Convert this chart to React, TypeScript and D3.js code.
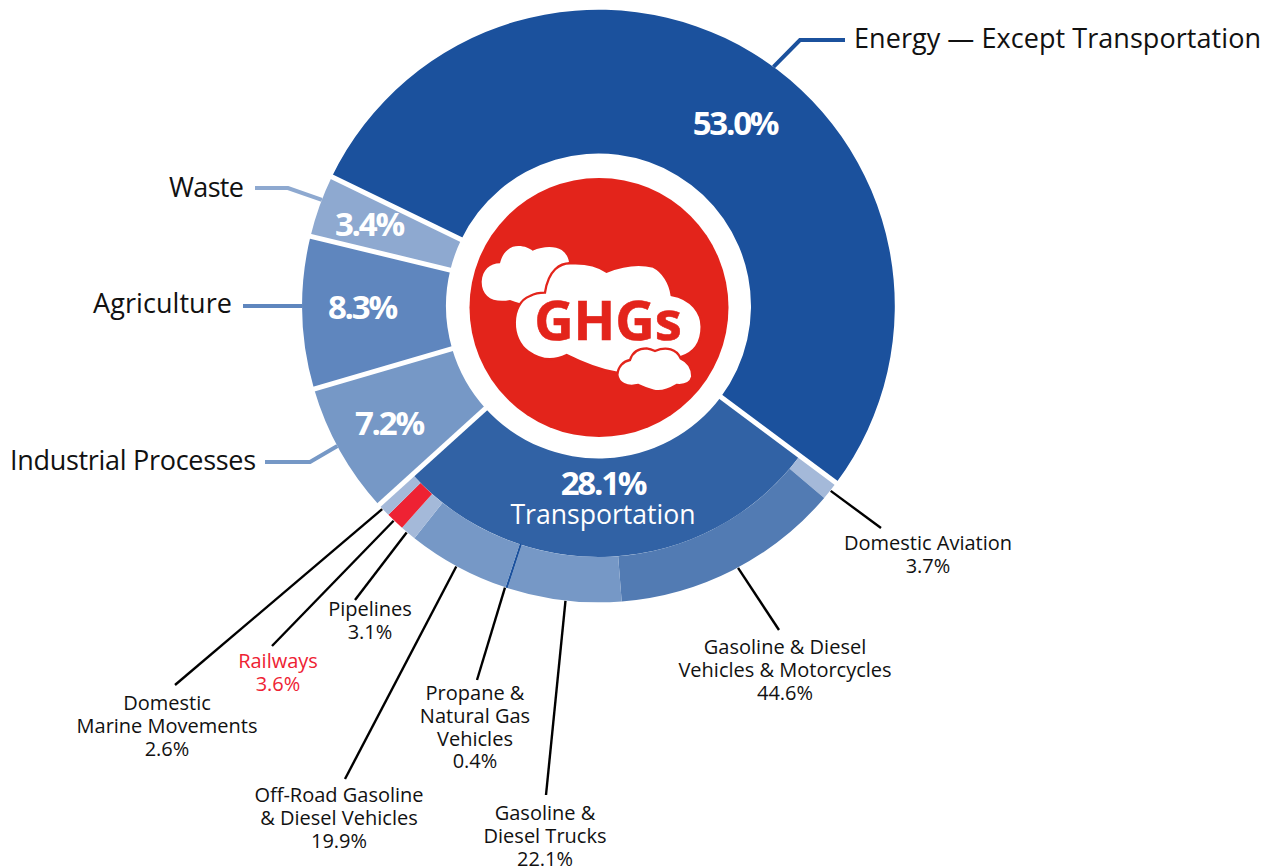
import React from "react";
import * as d3 from "d3";

const sectorNames = ["Energy — Except Transportation", "Transportation", "Industrial Processes", "Agriculture", "Waste"];
const sectorValues = [53.0, 28.1, 7.2, 8.3, 3.4];
const sectorColors = ["#1B519D", "#3162A5", "#7698C6", "#5F86BE", "#8EA9D0"];

const subNames = ["Domestic Aviation", "Gasoline & Diesel Vehicles & Motorcycles", "Gasoline & Diesel Trucks", "Propane & Natural Gas Vehicles", "Off-Road Gasoline & Diesel Vehicles", "Pipelines", "Railways", "Domestic Marine Movements"];
const subValues = [3.7, 44.6, 22.1, 0.4, 19.9, 3.1, 3.6, 2.6];
const subColors = ["#A4B9D9", "#527BB3", "#7698C6", "#1B519D", "#7698C6", "#A4B9D9", "#EE2233", "#A4B9D9"];

const W = 1280, H = 867;
const cx = 598.5, cy = 306;
const R = 296.3, rMid = 251, rIn = 152.5, rCore = 129.5;
const startDeg = -64.15;
const FONT = "'Open Sans', 'Noto Sans', sans-serif";

const rad = (d: number) => (d * Math.PI) / 180;
const pt = (deg: number, r: number): [number, number] => [cx + Math.sin(rad(deg)) * r, cy - Math.cos(rad(deg)) * r];

const sectorAngle = d3.scaleLinear().domain([0, 100]).range([startDeg, startDeg + 360]);
const sectorCum = d3.cumsum(sectorValues);
const sectorArcs = sectorValues.map((v, i) => ({ a0: sectorAngle(sectorCum[i] - v), a1: sectorAngle(sectorCum[i]) }));
const trans = sectorArcs[1];
const subAngle = d3.scaleLinear().domain([0, d3.sum(subValues)]).range([trans.a0, trans.a1]);
const subCum = d3.cumsum(subValues);
const subArcs = subValues.map((v, i) => ({ a0: subAngle(subCum[i] - v), a1: subAngle(subCum[i]) }));

const arc = d3.arc<any>();
const arcPath = (r0: number, r1: number, a0: number, a1: number) =>
  arc({ innerRadius: r0, outerRadius: r1, startAngle: rad(a0), endAngle: rad(a1) }) as string;

type Lab = { lines: string[]; anchor: [number, number]; text: [number, number]; nudge?: number; color?: string };
const subLabels: Lab[] = [
  { lines: ["Domestic Aviation", "3.7%"], anchor: [881, 528], text: [928, 550] },
  { lines: ["Gasoline & Diesel", "Vehicles & Motorcycles", "44.6%"], anchor: [779, 630], text: [785, 654], nudge: -1.0 },
  { lines: ["Gasoline &", "Diesel Trucks", "22.1%"], anchor: [546, 795], text: [545, 820], nudge: -0.3 },
  { lines: ["Propane &", "Natural Gas", "Vehicles", "0.4%"], anchor: [477, 680], text: [475, 700], nudge: 0.3 },
  { lines: ["Off-Road Gasoline", "& Diesel Vehicles", "19.9%"], anchor: [345, 779], text: [339, 802], nudge: 0.3 },
  { lines: ["Pipelines", "3.1%"], anchor: [355, 600], text: [370, 616], nudge: 0.3 },
  { lines: ["Railways", "3.6%"], anchor: [272, 646], text: [278, 668], nudge: 0.3, color: "#EE2233" },
  { lines: ["Domestic", "Marine Movements", "2.6%"], anchor: [175, 685], text: [167, 710], nudge: 0.3 },
];

const sectorLeaders: [number, number][][] = [
  [[800, 40], [845, 40]],
  [],
  [[310, 462], [265, 462]],
  [[243, 306]],
  [[288, 188], [255, 188]],
];
const leaderAngles = [36.2, 0, 241.8, 270, 291];
const sectorTitle: ({ x: number; y: number; anchor: string; len: number } | null)[] = [
  { x: 854, y: 48, anchor: "start", len: 407 },
  null,
  { x: 256, y: 470, anchor: "end", len: 246 },
  { x: 232, y: 313, anchor: "end", len: 139 },
  { x: 244, y: 197, anchor: "end", len: 75 },
];
const pctPos: [number, number][] = [[735, 135], [603, 495], [389, 435], [362, 319], [369, 235.5]];

const lineGen = d3.line();

export default function App() {
  const tr = `translate(${cx},${cy})`;
  const boundaries = sectorArcs.map((a) => a.a0);
  const propaneMid = (subArcs[3].a0 + subArcs[3].a1) / 2;
  return (
    <svg width={W} height={H} style={{ position: "absolute", left: 0, top: 0 }} fontFamily={FONT}>
      <rect width={W} height={H} fill="#fff" />
      {sectorArcs.map((a, i) => (
        <path key={i} transform={tr} d={arcPath(rIn, i === 1 ? rMid : R, a.a0, a.a1)} fill={sectorColors[i]} />
      ))}
      {subArcs.map((a, i) => (
        <path key={i} transform={tr} d={arcPath(rMid, R, a.a0, a.a1)} fill={subColors[i]} />
      ))}
      {boundaries.map((d, i) => (
        <path key={i} d={lineGen([pt(d, rIn - 2), pt(d, R + 3)]) as string} stroke="#fff" strokeWidth={5} />
      ))}
      <path d={lineGen([pt(propaneMid, rMid - 1), pt(propaneMid, R)]) as string} stroke={subColors[3]} strokeWidth={1.5} fill="none" />

      {subLabels.map((l, i) => {
        const mid = (subArcs[i].a0 + subArcs[i].a1) / 2 + (l.nudge || 0);
        return <path key={i} d={lineGen([pt(mid, R + 0.5), l.anchor]) as string} stroke="#000" strokeWidth={2.4} fill="none" />;
      })}
      {subLabels.map((l, i) => (
        <text key={i} textAnchor="middle" fontSize={20} fill={l.color || "#111"}>
          {l.lines.map((t, j) => (
            <tspan key={j} x={l.text[0]} y={l.text[1] + j * 22.8}>{t}</tspan>
          ))}
        </text>
      ))}

      {sectorArcs.map((a, i) => {
        if (!sectorLeaders[i].length) return null;
        const pts = [pt(leaderAngles[i], R), ...sectorLeaders[i]];
        return <path key={i} d={lineGen(pts) as string} stroke={sectorColors[i]} strokeWidth={4} fill="none" />;
      })}
      {sectorTitle.map((t, i) =>
        t ? (
          <text key={i} x={t.x} y={t.y} textAnchor={t.anchor as any} fontSize={27} fill="#111" textLength={t.len} lengthAdjust="spacing">
            {sectorNames[i]}
          </text>
        ) : null
      )}
      {sectorValues.map((v, i) => (
        <text key={i} x={pctPos[i][0]} y={pctPos[i][1]} textAnchor="middle" fontSize={33} fontWeight={700} fill="#fff" letterSpacing={-2.2}>
          {v.toFixed(1)}%
        </text>
      ))}
      <text x={603} y={524} textAnchor="middle" fontSize={26.6} fill="#fff">{sectorNames[1]}</text>

      <circle cx={599} cy={307.5} r={rCore} fill="#E3241B" />
      <g transform="translate(460,220) scale(0.3333)" fill="#fff">
        <path d="M120 130 C128 95 150 78 175 78 C195 78 208 85 218 92 C250 78 285 78 305 90 C318 100 325 112 327 125 L255 215 L180 250 Q165 245 150 240 C100 250 65 230 65 185 C67 150 90 130 120 130 Z" />
        <path d="M205 395 C150 360 150 250 210 228 C225 220 240 218 255 218 C265 150 300 128 335 130 C380 128 415 138 440 155 C490 135 540 130 580 140 C610 155 630 190 635 225 C695 235 725 280 725 320 C725 370 700 400 660 412 L470 458 C420 450 370 430 320 405 C280 425 240 420 205 395 Z" stroke="#E3241B" strokeWidth={7} />
        <path d="M510 420 C518 395 535 385 560 385 C570 387 578 390 585 393 C620 378 650 388 662 415 C685 425 697 445 697 470 C692 490 672 497 650 495 C625 510 600 517 580 512 C565 508 550 502 535 495 C500 503 475 490 472 465 C474 440 490 423 510 420 Z" stroke="#E3241B" strokeWidth={7} />
      </g>
      <text x={608} y={340} textAnchor="middle" fontSize={54.5} fontWeight={700} fill="#E3241B" stroke="#E3241B" strokeWidth={0.6}>GHGs</text>
    </svg>
  );
}
